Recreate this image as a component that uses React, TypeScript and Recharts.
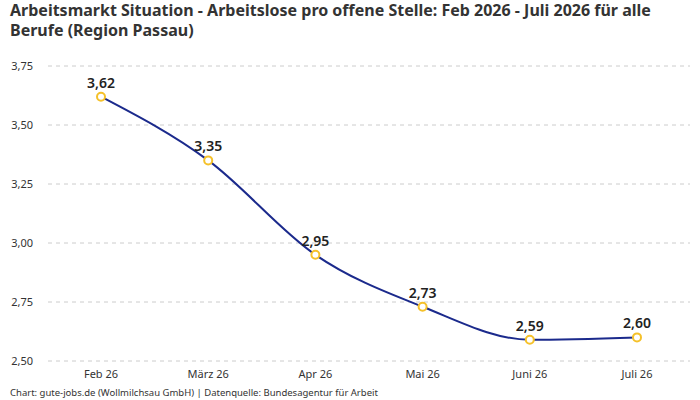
import React from 'react';
import { LineChart, Line, XAxis, YAxis, CartesianGrid, LabelList } from 'recharts';

const months = ['Feb 26', 'März 26', 'Apr 26', 'Mai 26', 'Juni 26', 'Juli 26'];
const ratio = [3.62, 3.35, 2.95, 2.73, 2.59, 2.6];
const yTicks = [2.5, 2.75, 3, 3.25, 3.5, 3.75];

const chartData = months.map((month, i) => ({ month, ratio: ratio[i] }));

const FONT = '"Noto Sans", "Open Sans", sans-serif';
const fmt = (v: number) => v.toFixed(2).replace('.', ',');

export default function App() {
  return (
    <div style={{ position: 'absolute', top: 0, left: 0, width: 700, height: 400, background: '#fff', fontFamily: FONT }}>
      <div style={{ position: 'absolute', top: 0, left: 10, width: 680, fontSize: 16, fontWeight: 700, lineHeight: '20px', color: '#333' }}>
        Arbeitsmarkt Situation - Arbeitslose pro offene Stelle: Feb 2026 - Juli 2026 für alle Berufe (Region Passau)
      </div>
      <LineChart
        width={700}
        height={400}
        data={chartData}
        margin={{ top: 66, right: 10, bottom: 19, left: 8 }}
        style={{ fontFamily: FONT }}
      >
        <CartesianGrid strokeDasharray="4 4" vertical={false} stroke="#cccccc" />
        <XAxis
          dataKey="month"
          height={20}
          padding={{ left: 53, right: 53 }}
          tickLine={false}
          axisLine={false}
          tickSize={0}
          tickMargin={9}
          tick={{ fill: '#333', fontSize: 11 }}
        />
        <YAxis
          width={40}
          domain={[2.5, 3.75]}
          ticks={yTicks}
          tickFormatter={fmt}
          tickLine={false}
          axisLine={false}
          tickSize={0}
          tickMargin={15}
          tick={{ fill: '#333', fontSize: 11 }}
        />
        <Line
          type="monotone"
          dataKey="ratio"
          stroke="#1b2a8c"
          strokeWidth={2}
          dot={{ r: 4, fill: '#fff', stroke: '#f5c12a', strokeWidth: 2 }}
          isAnimationActive={false}
        >
          <LabelList dataKey="ratio" position="top" offset={9} formatter={(v: any) => fmt(Number(v))} style={{ fontSize: 14, fontWeight: 600, fill: '#222' }} />
        </Line>
      </LineChart>
      <div style={{ position: 'absolute', left: 10, top: 386, fontSize: 9.5, color: '#333' }}>
        Chart: gute-jobs.de (Wollmilchsau GmbH) | Datenquelle: Bundesagentur für Arbeit
      </div>
    </div>
  );
}
